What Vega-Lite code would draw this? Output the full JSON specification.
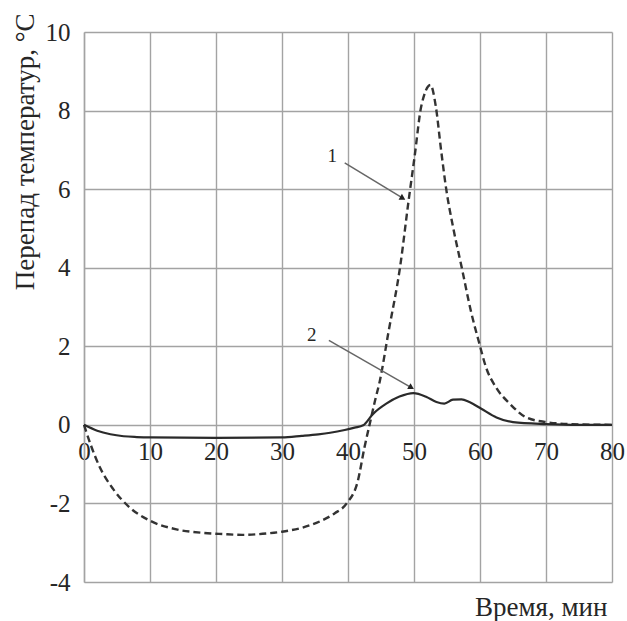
{
  "$schema": "https://vega.github.io/schema/vega-lite/v6.json",
  "width": 528,
  "height": 550,
  "autosize": {"type": "none"},
  "padding": {"left": 84, "top": 32, "right": 15, "bottom": 39},
  "background": "white",
  "config": {
    "view": {"stroke": null},
    "font": "Liberation Serif",
    "axis": {
      "gridColor": "#a3a3a3",
      "gridWidth": 1.4,
      "gridOpacity": 1,
      "ticks": false,
      "labelFont": "Liberation Serif",
      "labelFontSize": 25,
      "labelColor": "#262626",
      "titleFont": "Liberation Serif",
      "titleFontSize": 27,
      "titleFontWeight": "normal",
      "titleColor": "#262626"
    }
  },
  "datasets": {
    "curves": [
      {"t": 0, "v": 0, "s": "1"},
      {"t": 1, "v": -0.5, "s": "1"},
      {"t": 2.4, "v": -1.08, "s": "1"},
      {"t": 4.4, "v": -1.63, "s": "1"},
      {"t": 6.9, "v": -2.1, "s": "1"},
      {"t": 10, "v": -2.44, "s": "1"},
      {"t": 14, "v": -2.66, "s": "1"},
      {"t": 18, "v": -2.75, "s": "1"},
      {"t": 21, "v": -2.78, "s": "1"},
      {"t": 24, "v": -2.8, "s": "1"},
      {"t": 28, "v": -2.76, "s": "1"},
      {"t": 30, "v": -2.72, "s": "1"},
      {"t": 33, "v": -2.62, "s": "1"},
      {"t": 35.7, "v": -2.46, "s": "1"},
      {"t": 38, "v": -2.25, "s": "1"},
      {"t": 39.8, "v": -2.0, "s": "1"},
      {"t": 41.5, "v": -1.42, "s": "1"},
      {"t": 42.5, "v": -0.57, "s": "1"},
      {"t": 43.3, "v": 0.03, "s": "1"},
      {"t": 44.1, "v": 0.62, "s": "1"},
      {"t": 44.8, "v": 1.1, "s": "1"},
      {"t": 46.1, "v": 2.33, "s": "1"},
      {"t": 47.9, "v": 4.03, "s": "1"},
      {"t": 49.2, "v": 5.73, "s": "1"},
      {"t": 50.1, "v": 6.84, "s": "1"},
      {"t": 51.1, "v": 8.11, "s": "1"},
      {"t": 52.5, "v": 8.65, "s": "1"},
      {"t": 53.3, "v": 8.11, "s": "1"},
      {"t": 54.1, "v": 7.0, "s": "1"},
      {"t": 54.9, "v": 5.98, "s": "1"},
      {"t": 55.9, "v": 5.05, "s": "1"},
      {"t": 57.2, "v": 4.03, "s": "1"},
      {"t": 58.7, "v": 2.84, "s": "1"},
      {"t": 59.9, "v": 2.07, "s": "1"},
      {"t": 60.9, "v": 1.47, "s": "1"},
      {"t": 62.4, "v": 0.96, "s": "1"},
      {"t": 64.5, "v": 0.54, "s": "1"},
      {"t": 67, "v": 0.19, "s": "1"},
      {"t": 70, "v": 0.07, "s": "1"},
      {"t": 75, "v": 0.01, "s": "1"},
      {"t": 80, "v": 0, "s": "1"},
      {"t": 0, "v": 0, "s": "2"},
      {"t": 2, "v": -0.15, "s": "2"},
      {"t": 4, "v": -0.24, "s": "2"},
      {"t": 6, "v": -0.29, "s": "2"},
      {"t": 8, "v": -0.31, "s": "2"},
      {"t": 10, "v": -0.32, "s": "2"},
      {"t": 20, "v": -0.33, "s": "2"},
      {"t": 30, "v": -0.32, "s": "2"},
      {"t": 33, "v": -0.28, "s": "2"},
      {"t": 35.5, "v": -0.24, "s": "2"},
      {"t": 37.3, "v": -0.2, "s": "2"},
      {"t": 39.5, "v": -0.13, "s": "2"},
      {"t": 41, "v": -0.07, "s": "2"},
      {"t": 42.3, "v": -0.01, "s": "2"},
      {"t": 43.8, "v": 0.28, "s": "2"},
      {"t": 45.8, "v": 0.54, "s": "2"},
      {"t": 47.8, "v": 0.72, "s": "2"},
      {"t": 49.9, "v": 0.81, "s": "2"},
      {"t": 51.9, "v": 0.71, "s": "2"},
      {"t": 53.4, "v": 0.58, "s": "2"},
      {"t": 54.6, "v": 0.54, "s": "2"},
      {"t": 55.9, "v": 0.64, "s": "2"},
      {"t": 57.2, "v": 0.65, "s": "2"},
      {"t": 58.4, "v": 0.58, "s": "2"},
      {"t": 60.2, "v": 0.41, "s": "2"},
      {"t": 62.5, "v": 0.19, "s": "2"},
      {"t": 65, "v": 0.07, "s": "2"},
      {"t": 70, "v": 0.02, "s": "2"},
      {"t": 75, "v": 0, "s": "2"},
      {"t": 80, "v": 0, "s": "2"}
    ],
    "callouts": [
      {"label": "1", "lt": 37.6, "lv": 6.84, "t": 39.5, "v": 6.67, "t2": 48.3, "v2": 5.77},
      {"label": "2", "lt": 34.5, "lv": 2.28, "t": 37.1, "v": 2.15, "t2": 49.6, "v2": 0.95}
    ]
  },
  "layer": [
    {
      "data": {"name": "curves"},
      "transform": [{"filter": "datum.s === '1'"}],
      "mark": {"type": "line", "interpolate": "monotone", "color": "#333", "strokeWidth": 2.4, "strokeDash": [7, 4]},
      "encoding": {
        "x": {
          "field": "t", "type": "quantitative",
          "scale": {"domain": [0, 80], "nice": false, "zero": false},
          "axis": {
            "values": [0, 10, 20, 30, 40, 50, 60, 70, 80],
            "offset": -157.14,
            "domain": false,
            "labelPadding": 15,
            "labelFlush": false,
            "title": "Время, мин",
            "titleX": 523,
            "titleY": 191,
            "titleAlign": "right",
            "titleBaseline": "alphabetic"
          }
        },
        "y": {
          "field": "v", "type": "quantitative",
          "scale": {"domain": [-4, 10], "nice": false, "zero": false},
          "axis": {
            "values": [-4, -2, 0, 2, 4, 6, 8, 10],
            "domain": true,
            "domainColor": "#a3a3a3",
            "domainWidth": 1.4,
            "labelPadding": 14,
            "labelFlush": false,
            "labelExpr": "datum.value < 0 ? '-' + abs(datum.value) : '' + datum.value",
            "title": "Перепад температур, °С",
            "titleAngle": -90,
            "titleX": -59,
            "titleY": -19,
            "titleAlign": "right",
            "titleBaseline": "middle"
          }
        }
      }
    },
    {
      "data": {"name": "curves"},
      "transform": [{"filter": "datum.s === '2'"}],
      "mark": {"type": "line", "interpolate": "monotone", "color": "#2a2a2a", "strokeWidth": 2.2},
      "encoding": {
        "x": {"field": "t", "type": "quantitative"},
        "y": {"field": "v", "type": "quantitative"}
      }
    },
    {
      "data": {"name": "callouts"},
      "mark": {"type": "rule", "color": "#666", "strokeWidth": 1.5},
      "encoding": {
        "x": {"field": "t", "type": "quantitative"},
        "y": {"field": "v", "type": "quantitative"},
        "x2": {"field": "t2"},
        "y2": {"field": "v2"}
      }
    },
    {
      "data": {"name": "callouts"},
      "mark": {"type": "point", "shape": "triangle-right", "filled": true, "color": "#222", "size": 45, "angle": 30, "opacity": 1},
      "encoding": {
        "x": {"field": "t2", "type": "quantitative"},
        "y": {"field": "v2", "type": "quantitative"}
      }
    },
    {
      "data": {"name": "callouts"},
      "mark": {"type": "text", "font": "Liberation Serif", "fontSize": 19, "color": "#262626", "align": "center", "baseline": "middle"},
      "encoding": {
        "x": {"field": "lt", "type": "quantitative"},
        "y": {"field": "lv", "type": "quantitative"},
        "text": {"field": "label"}
      }
    }
  ]
}
